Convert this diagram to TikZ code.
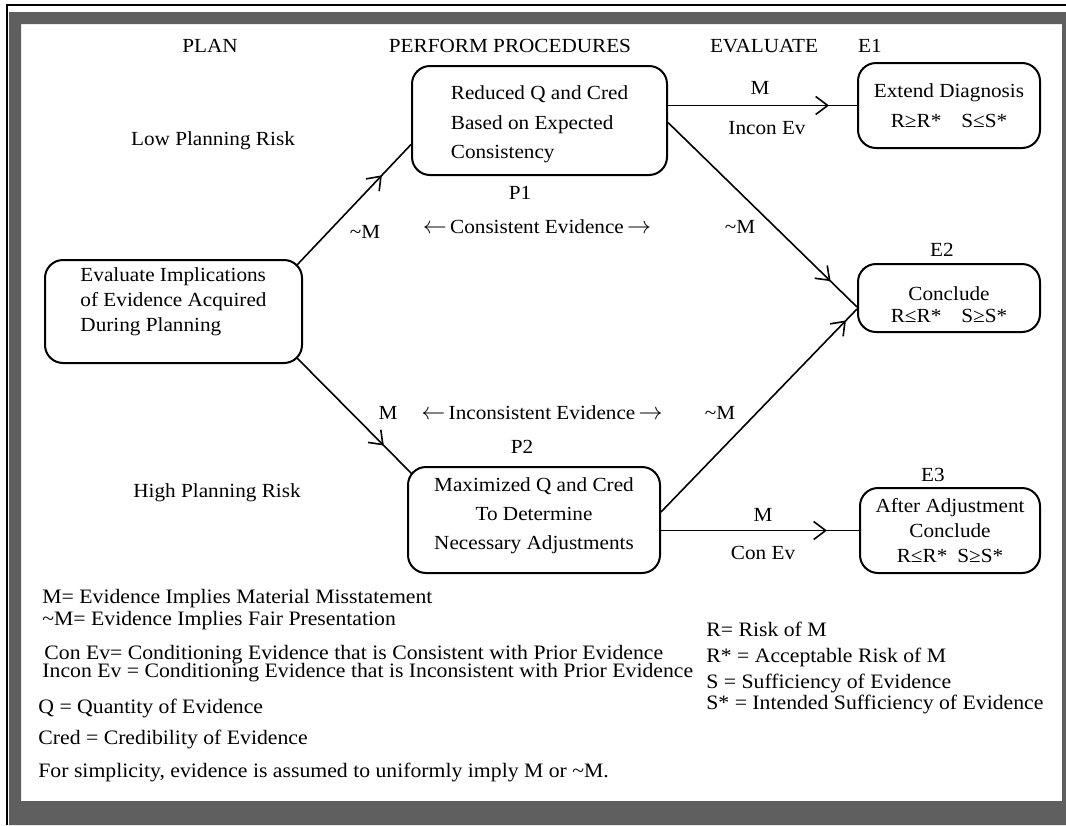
\documentclass[tikz,border=0pt]{standalone}
\usepackage{fontspec}
\setmainfont[FakeStretch=1.06]{Liberation Serif}
\usetikzlibrary{arrows.meta, decorations.markings}
\definecolor{stip}{RGB}{95,95,95}

\begin{document}
\begin{tikzpicture}[x=0.5pt, y=-0.5pt, font=\fontsize{10}{12}\selectfont,
                bx/.style={draw, line width=1pt, rounded corners=9pt, inner sep=0pt},
                lnk/.style={line width=0.8pt},
                chev/.style={postaction={decorate}, decoration={markings,
                    mark=at position -#1 with {\arrow[line width=0.8pt]{Straight Barb[length=6pt, width=9pt]}}}},
                lg/.style={anchor=west, inner sep=0pt, font=\fontsize{10.25}{12}\selectfont}]

            \useasboundingbox (0,0) rectangle (1066,825);

            % rand
            \fill[stip, even odd rule] (9,12) rectangle (1066,825) (21,24) rectangle (1062,801);
            \draw[line width=1pt] (7,825) -- (7,5) -- (1066,5);

            % kolommen
            \node (plan) at (210,46) {PLAN};
            \node (perf) at (510,46) {PERFORM PROCEDURES};
            \node (evh) at (764,46) {EVALUATE};
            \node (e1lab) at (870,46) {E1};
            \node (low) at (213,141) {Low Planning Risk};
            \node (high) at (217,493) {High Planning Risk};

            % vakken
            \node[bx, minimum width=128.5pt, minimum height=51.5pt] (eval) at (173.5,311.5) {};
            \node[align=left, font=\fontsize{10}{12.5}\selectfont] (evalt) at ([yshift=5pt]eval.center)
                  {Evaluate Implications\\of Evidence Acquired\\During Planning};
            \node[bx, minimum width=127.5pt, minimum height=54.5pt] (p1) at (539.5,120.5) {};
            \node[align=left, font=\fontsize{10}{14.75}\selectfont] (p1t) at ([yshift=-2pt]p1.center)
                  {Reduced Q and Cred\\Based on Expected\\Consistency};
            \node[bx, minimum width=126pt, minimum height=53pt] (p2) at (534,520) {};
            \node[align=center, font=\fontsize{10}{14.5}\selectfont] (p2t) at ([yshift=2pt]p2.center)
                  {Maximized Q and Cred\\To Determine\\Necessary Adjustments};
            \node[bx, minimum width=91pt, minimum height=42.5pt, align=center,
                  font=\fontsize{10}{15}\selectfont] (e1) at (949,105.5)
                  {Extend Diagnosis\\R≥R*\quad S≤S*};
            \node[bx, minimum width=91pt, minimum height=34pt] (e2) at (949,298) {};
            \node[align=center, font=\fontsize{10}{11}\selectfont] (e2t) at ([yshift=-3.5pt]e2.center)
                  {Conclude\\R≤R*\quad S≥S*};
            \node[bx, minimum width=90pt, minimum height=42.5pt, align=center,
                  font=\fontsize{10}{12.5}\selectfont] (e3) at (950,530.5)
                  {After Adjustment\\Conclude\\R≤R*\enspace S≥S*};

            \node (p1lab) at (520,193) {P1};
            \node (p2lab) at (522,447) {P2};
            \node (e2lab) at (942,250) {E2};
            \node (e3lab) at (933,475) {E3};
            \node (cons) at (537,227) {{\large$\leftarrow$}\,Consistent Evidence\,{\large$\rightarrow$}};
            \node (incons) at (542,413) {{\large$\leftarrow$}\,Inconsistent Evidence\,{\large$\rightarrow$}};

            % verbindingen
            \draw[lnk, chev=21pt] ([xshift=-3pt, yshift=-3pt]eval.north east) -- ([yshift=-12pt]p1.west);
            \draw[lnk, chev=20pt] ([xshift=-3pt, yshift=3pt]eval.south east) -- ([xshift=2.5pt, yshift=-4pt]p2.north west);
            \draw[lnk, chev=14pt] (p1.east |- e1.west) -- (e1.west);
            \draw[lnk, chev=18pt] ([yshift=-1pt]p1.east) -- ([yshift=-4.5pt]e2.west);
            \draw[lnk, chev=8pt] ([yshift=4pt]p2.east) -- ([yshift=-5.5pt]e2.west);
            \draw[lnk, chev=16pt] (p2.east |- e3.west) -- (e3.west);

            \node (nm1) at (365,232) {\textasciitilde M};
            \node (m1) at (388,413) {M};
            \node (m2) at (760,88) {M};
            \node (inc) at (767,128) {Incon Ev};
            \node (nm2) at (740,227) {\textasciitilde M};
            \node (nm3) at (720,413) {\textasciitilde M};
            \node (m3) at (763,515) {M};
            \node (con) at (763,553) {Con Ev};

            % legende
            \node[lg] (lm) at (42,599) {M= Evidence Implies Material Misstatement};
            \node[lg] (lnm) at (42,621) {\textasciitilde M= Evidence Implies Fair Presentation};
            \node[lg] (lcon) at (44,655) {Con Ev= Conditioning Evidence that is Consistent with Prior Evidence};
            \node[lg] (linc) at (42,673) {Incon Ev = Conditioning Evidence that is Inconsistent with Prior Evidence};
            \node[lg] (lq) at (38,708) {Q = Quantity of Evidence};
            \node[lg] (lcr) at (38,739) {Cred = Credibility of Evidence};
            \node[lg] (lsim) at (38,772) {For simplicity, evidence is assumed to uniformly imply M or \textasciitilde M.};
            \node[lg] (lr) at (706,629) {R= Risk of M};
            \node[lg] (lrs) at (706,657) {R* = Acceptable Risk of M};
            \node[lg] (ls) at (706,683) {S = Sufficiency of Evidence};
            \node[lg] (lss) at (706,704) {S* = Intended Sufficiency of Evidence};

        \end{tikzpicture}
\end{document}
